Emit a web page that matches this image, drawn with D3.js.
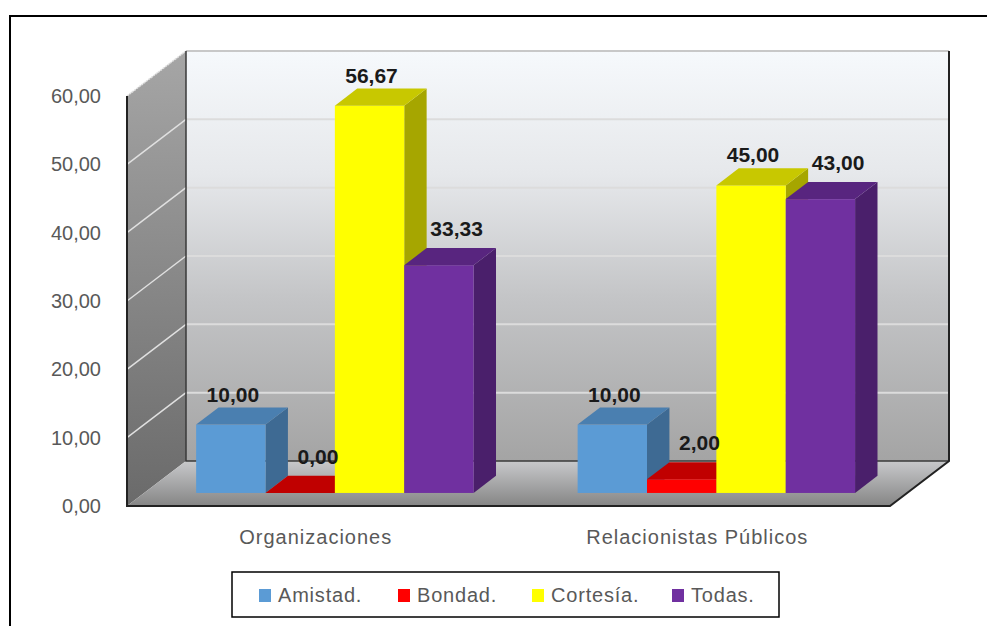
<!DOCTYPE html>
<html><head><meta charset="utf-8">
<script src="https://cdn.jsdelivr.net/npm/d3@7/dist/d3.min.js"></script>
<style>body{margin:0;background:#fff}svg{display:block}</style>
</head><body><svg id="c" width="987" height="626"></svg>
<script>
const categories = ["Organizaciones", "Relacionistas Públicos"];
const seriesNames = ["Amistad.", "Bondad.", "Cortesía.", "Todas."];
const amistad = [10.00, 10.00];
const bondad = [0.00, 2.00];
const cortesia = [56.67, 45.00];
const todas = [33.33, 43.00];
const yTicks = [0, 10, 20, 30, 40, 50, 60];
const seriesValues = [amistad, bondad, cortesia, todas];
const colors = [
  {front:"#5B9BD5", side:"#3E6A93", top:"#4A7FB0"},
  {front:"#FF0000", side:"#B00000", top:"#C00000"},
  {front:"#FFFF00", side:"#A6A600", top:"#C8C800"},
  {front:"#7030A0", side:"#4A1F6B", top:"#58257F"}
];

const svg = d3.select("#c");
const fmt = v => v.toFixed(2).replace(".", ",");

// 3D frame geometry
const X0 = 127, X1 = 890, Y0 = 506, Y60 = 96;
const DX = 59, DY = 45;          // depth offset front->back
const zF = 0.29, zB = 0.67;      // bar front/back depth fractions
const off = z => [DX*z, -DY*z];

const y = d3.scaleLinear().domain([0,60]).range([Y0, Y60]);
const x0 = d3.scaleBand().domain(categories).range([X0, X1]);
const x1 = d3.scaleBand().domain(seriesNames).range([0, x0.bandwidth()]).paddingInner(0).paddingOuter(0.75);

const defs = svg.append("defs");
function lg(id, stops, x1_,y1_,x2_,y2_){
  const g = defs.append("linearGradient").attr("id",id).attr("gradientUnits","userSpaceOnUse")
    .attr("x1",x1_).attr("y1",y1_).attr("x2",x2_).attr("y2",y2_);
  stops.forEach(s=>g.append("stop").attr("offset",s[0]).attr("stop-color",s[1]));
}
const bTop = y(60)-DY, bBot = y(0)-DY;
lg("gBack", [[0,"#f6f9fc"],[0.3,"#e6e8eb"],[0.6,"#c4c5c7"],[1,"#a4a4a4"]], 0,bTop,0,bBot);
lg("gSide", [[0,"#a6a6a6"],[1,"#6a6a6a"]], 0,Y60-DY,0,Y0);
lg("gFloor", [[0,"#c8c9cb"],[1,"#858585"]], 0,bBot,0,Y0);

// Frame
svg.append("path").attr("d",`M10,626 L10,16 L987,16`).attr("fill","none").attr("stroke","#000").attr("stroke-width",2);

// back wall
svg.append("rect").attr("x",X0+DX).attr("y",bTop).attr("width",X1-X0).attr("height",bBot-bTop).attr("fill","url(#gBack)");
// side wall
svg.append("path").attr("d",`M${X0},${y(60)} L${X0+DX},${bTop} L${X0+DX},${bBot} L${X0},${Y0} Z`).attr("fill","url(#gSide)");
// floor
svg.append("path").attr("d",`M${X0},${Y0} L${X1},${Y0} L${X1+DX},${bBot} L${X0+DX},${bBot} Z`).attr("fill","url(#gFloor)");

// gridlines
yTicks.forEach(t=>{
  if(t===0) return;
  svg.append("line").attr("x1",X0+DX).attr("x2",X1+DX).attr("y1",y(t)-DY).attr("y2",y(t)-DY)
    .attr("stroke", t===60 ? "#c8c8c8" : "#dcdcdc").attr("stroke-width",2);
  svg.append("line").attr("x1",X0).attr("x2",X0+DX).attr("y1",y(t)).attr("y2",y(t)-DY)
    .attr("stroke","#e0e0e0").attr("stroke-width",1.5).attr("stroke-dasharray", t===60?"2,1":null);
});
// frame edges
const edge = (d,c,w)=>svg.append("path").attr("d",d).attr("fill","none").attr("stroke",c).attr("stroke-width",w);
edge(`M${X0+DX},${bTop} L${X0+DX},${bBot} L${X1+DX},${bBot}`, "#3a3a3a", 1.5);
edge(`M${X1+DX},${bTop} L${X1+DX},${bBot} L${X1},${Y0} L${X0},${Y0} L${X0},${y(60)}`, "#222", 2);

// bars
const [fx,fy] = off(zF), [bx,by] = off(zB);
const ddx = bx-fx, ddy = by-fy;
const bw = x1.bandwidth();
const labels = [];
categories.forEach((cat, ci)=>{
  seriesNames.forEach((s, si)=>{
    const v = seriesValues[si][ci];
    const L = x0(cat) + x1(s) + fx;
    const R = L + bw;
    const T = y(v) + fy, B = y(0) + fy;
    const c = colors[si];
    const g = svg.append("g");
    g.append("path").attr("d",`M${R},${T} L${R+ddx},${T+ddy} L${R+ddx},${B+ddy} L${R},${B} Z`).attr("fill",c.side);
    g.append("rect").attr("x",L).attr("y",T).attr("width",bw).attr("height",Math.max(0,B-T)).attr("fill",c.front);
    g.append("path").attr("d",`M${L},${T} L${R},${T} L${R+ddx},${T+ddy} L${L+ddx},${T+ddy} Z`).attr("fill",c.top);
    // if the left neighbour is taller, move label clear of its side face
    const prev = si>0 ? seriesValues[si-1][ci] : -1;
    const blocked = prev > v;
    labels.push({x: blocked ? L + ddx + 30 : L + bw/2 + 2, y: T + ddy - (blocked ? 12 : 6), v});
  });
});
labels.forEach(l=>{
  svg.append("text").attr("x",l.x).attr("y",l.y).attr("text-anchor","middle")
    .attr("font-family","'Liberation Sans', Arial, sans-serif").attr("font-size",21).attr("font-weight","bold")
    .attr("fill","#1a1a1a").text(fmt(l.v));
});

// y tick labels
yTicks.forEach(t=>{
  svg.append("text").attr("x",101).attr("y",y(t)).attr("dy","0.35em").attr("text-anchor","end")
    .attr("font-family","'Liberation Sans', Arial, sans-serif").attr("font-size",20).attr("fill","#595959").text(fmt(t));
});
// category labels
categories.forEach(cat=>{
  svg.append("text").attr("x",x0(cat)+x0.bandwidth()/2 - 2).attr("y",544).attr("text-anchor","middle")
    .attr("font-family","'Liberation Sans', Arial, sans-serif").attr("font-size",20).attr("letter-spacing",1)
    .attr("fill","#595959").text(cat);
});

// legend
svg.append("rect").attr("x",232).attr("y",572).attr("width",547).attr("height",45).attr("fill","#fff").attr("stroke","#000").attr("stroke-width",1.5);
const legX = [259, 398, 532, 672];
seriesNames.forEach((s,i)=>{
  svg.append("rect").attr("x",legX[i]).attr("y",589).attr("width",12).attr("height",13).attr("fill",colors[i].front);
  svg.append("text").attr("x",legX[i]+19).attr("y",602).attr("font-family","'Liberation Sans', Arial, sans-serif")
    .attr("font-size",20).attr("letter-spacing",0.8).attr("fill","#595959").text(s);
});
</script></body></html>
